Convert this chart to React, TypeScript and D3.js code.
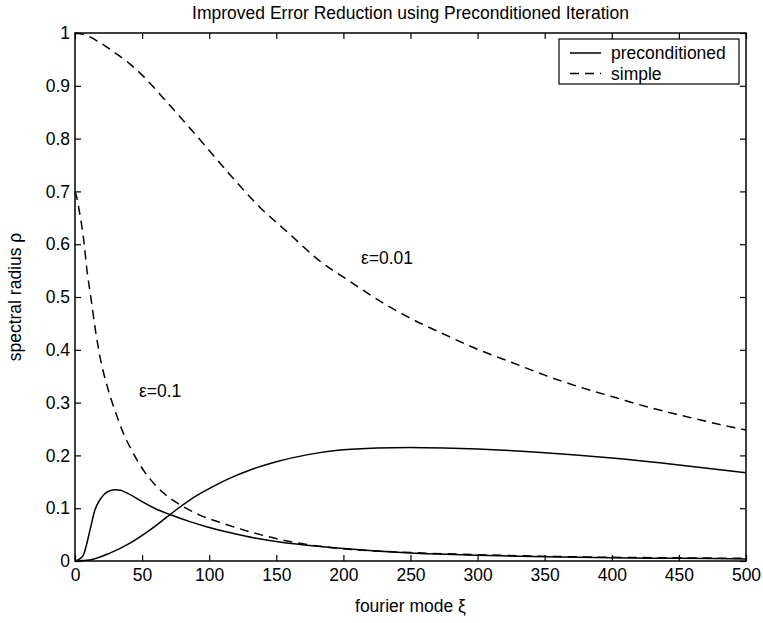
import React, { useEffect, useRef } from 'react';
import * as d3 from 'd3';

// x ticks / y ticks
const xTicks = [0, 50, 100, 150, 200, 250, 300, 350, 400, 450, 500];
const yTicks = [0, 0.1, 0.2, 0.3, 0.4, 0.5, 0.6, 0.7, 0.8, 0.9, 1];
const yTickLabels = ['0', '0.1', '0.2', '0.3', '0.4', '0.5', '0.6', '0.7', '0.8', '0.9', '1'];

// simple iteration, eps = 0.01 (dashed, upper)
const simpleXi01 = [0, 10, 19, 30, 41.5, 54, 65, 76.6, 95.8, 115, 137, 160, 182, 204, 223, 249, 274.5, 300, 325.6, 351, 376.6, 402, 427.7, 453, 478, 500];
const simpleRho01 = [1.0, 0.994, 0.981, 0.962, 0.94, 0.91, 0.879, 0.846, 0.79, 0.733, 0.672, 0.619, 0.569, 0.531, 0.499, 0.461, 0.43, 0.401, 0.376, 0.351, 0.329, 0.31, 0.291, 0.275, 0.26, 0.248];

// simple iteration, eps = 0.1 (dashed, steep)
const simpleXi1 = [0, 1.2, 3.2, 6.2, 9.2, 11.5, 15.3, 18.6, 24.8, 32.3, 36, 42.2, 51, 60.9, 70.8, 80.7, 93, 110.5, 135, 160, 185, 200, 250, 300, 350, 400, 450, 500];
const simpleRho1 = [0.7, 0.69, 0.663, 0.614, 0.545, 0.505, 0.436, 0.387, 0.324, 0.267, 0.242, 0.21, 0.172, 0.141, 0.119, 0.103, 0.087, 0.071, 0.052, 0.037, 0.027, 0.023, 0.016, 0.012, 0.009, 0.007, 0.006, 0.005];

// preconditioned, eps = 0.1 (solid, early peak)
const precXi1 = [0, 3, 6.2, 8.5, 11.2, 14.9, 18.6, 22, 26, 29.8, 34, 38.5, 45, 51, 60, 70.8, 85, 98, 115, 135, 155, 172.6, 197.5, 250, 300, 350, 400, 450, 500];
const precRho1 = [0, 0.003, 0.011, 0.03, 0.059, 0.097, 0.116, 0.127, 0.133, 0.135, 0.134, 0.129, 0.12, 0.111, 0.099, 0.088, 0.075, 0.065, 0.054, 0.043, 0.035, 0.03, 0.024, 0.015, 0.011, 0.008, 0.006, 0.005, 0.004];

// preconditioned, eps = 0.01 (solid, broad)
const precXi01 = [0, 11, 26, 41, 56, 70.8, 85.7, 100.6, 115.5, 130, 150, 172.6, 197.5, 225, 250, 275, 300, 350, 400, 450, 500];
const precRho01 = [0, 0.002, 0.015, 0.034, 0.059, 0.088, 0.116, 0.138, 0.157, 0.172, 0.188, 0.201, 0.21, 0.214, 0.215, 0.214, 0.212, 0.205, 0.195, 0.182, 0.167];

const FONT = '"Liberation Sans", Arial, Helvetica, sans-serif';

const Chart = () => {
    const ref = useRef<SVGSVGElement>(null);

    useEffect(() => {
        const width = 763;
        const height = 623;
        const margin = { left: 75, right: 17, top: 33, bottom: 62 };

        const svg = d3.select(ref.current);
        svg.selectAll('*').remove();
        svg.attr('width', width).attr('height', height);

        const x = d3.scaleLinear().domain([0, 500]).range([margin.left, width - margin.right]);
        const y = d3.scaleLinear().domain([0, 1]).range([height - margin.bottom, margin.top]);

        svg.append('rect').attr('width', width).attr('height', height).attr('fill', '#fff');

        const line = d3.line<[number, number]>()
            .x(d => x(d[0]))
            .y(d => y(d[1]))
            .curve(d3.curveMonotoneX);

        const series = [
            { xs: simpleXi01, ys: simpleRho01, dash: '9,6' },
            { xs: simpleXi1, ys: simpleRho1, dash: '9,6' },
            { xs: precXi1, ys: precRho1, dash: null },
            { xs: precXi01, ys: precRho01, dash: null },
        ];

        series.forEach(s => {
            const pts = s.xs.map((v, i) => [v, s.ys[i]] as [number, number]);
            svg.append('path')
                .attr('d', line(pts))
                .attr('fill', 'none')
                .attr('stroke', '#000')
                .attr('stroke-width', 1.5)
                .attr('stroke-dasharray', s.dash);
        });

        // axes (inward ticks, box)
        const styleAxis = (g: any) => {
            g.select('.domain').remove();
            g.selectAll('line').attr('stroke', '#000').attr('stroke-width', 1.2);
            g.selectAll('text').attr('font-family', FONT).attr('font-size', 17.5).attr('fill', '#000');
        };

        svg.append('g')
            .attr('transform', `translate(0,${y(0)})`)
            .call(d3.axisBottom(x).tickValues(xTicks).tickSize(-6).tickPadding(8).tickFormat(d3.format('d')))
            .call(styleAxis);
        svg.append('g')
            .attr('transform', `translate(0,${y(1)})`)
            .call(d3.axisTop(x).tickValues(xTicks).tickSize(-6).tickFormat(() => ''))
            .call(styleAxis);
        svg.append('g')
            .attr('transform', `translate(${x(0)},0)`)
            .call(d3.axisLeft(y).tickValues(yTicks).tickSize(-6).tickPadding(5).tickFormat((d, i) => yTickLabels[i]))
            .call(styleAxis);
        svg.append('g')
            .attr('transform', `translate(${x(500)},0)`)
            .call(d3.axisRight(y).tickValues(yTicks).tickSize(-6).tickFormat(() => ''))
            .call(styleAxis);

        svg.append('rect')
            .attr('x', x(0)).attr('y', y(1))
            .attr('width', x(500) - x(0)).attr('height', y(0) - y(1))
            .attr('fill', 'none').attr('stroke', '#000').attr('stroke-width', 1.5);

        const text = (tx: number, ty: number, s: string, anchor = 'start') =>
            svg.append('text')
                .attr('x', tx).attr('y', ty)
                .attr('text-anchor', anchor)
                .attr('font-family', FONT).attr('font-size', 17.5)
                .attr('fill', '#000')
                .text(s);

        const cx = (x(0) + x(500)) / 2;
        text(cx, 18.5, 'Improved Error Reduction using Preconditioned Iteration', 'middle');
        text(cx, 612, 'fourier mode ξ', 'middle');
        text(0, 0, 'spectral radius ρ', 'middle')
            .attr('transform', `translate(21,${(y(0) + y(1)) / 2}) rotate(-90)`);

        text(361, 264, 'ε=0.01');
        text(139, 397, 'ε=0.1');

        // legend
        const lg = svg.append('g');
        lg.append('rect')
            .attr('x', 559).attr('y', 39).attr('width', 180).attr('height', 45)
            .attr('fill', '#fff').attr('stroke', '#000').attr('stroke-width', 1.2);
        [
            { label: 'preconditioned', dash: null, yy: 53 },
            { label: 'simple', dash: '9,6', yy: 73.5 },
        ].forEach(r => {
            lg.append('line')
                .attr('x1', 570).attr('x2', 601).attr('y1', r.yy).attr('y2', r.yy)
                .attr('stroke', '#000').attr('stroke-width', 1.5)
                .attr('stroke-dasharray', r.dash);
            text(611, r.yy + 6, r.label);
        });
    }, []);

    return <svg ref={ref} style={{ position: 'absolute', left: 0, top: 0 }}></svg>;
};

export default function App() {
    return <Chart />;
}
